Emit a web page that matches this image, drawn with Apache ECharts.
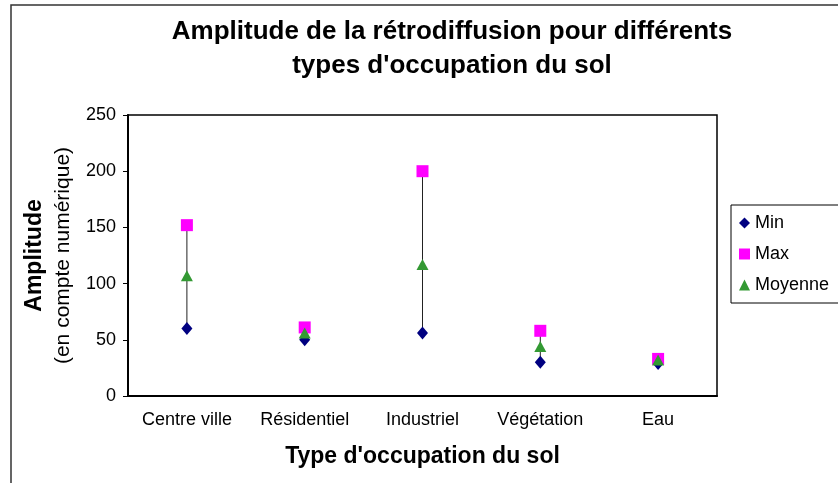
<!DOCTYPE html>
<html>
<head>
<meta charset="utf-8">
<script src="https://cdn.jsdelivr.net/npm/echarts@6/dist/echarts.min.js"></script>
<style>
  html, body { margin: 0; padding: 0; background: #fff; }
  #chart { width: 838px; height: 483px; }
</style>
</head>
<body>
<div id="chart"></div>
<script>
// categories and values
var categories = ['Centre ville', 'Résidentiel', 'Industriel', 'Végétation', 'Eau']
var minValues = [60, 50, 56, 30, 29]
var maxValues = [152, 61, 200, 58, 33]
var meanValues = [107, 56, 117, 44, 32]
var legendNames = ['Min', 'Max', 'Moyenne']

var font = 'Liberation Sans, Arial, sans-serif'

// high-low lines: [index, min, max]
var rangeData = categories.map(function (c, i) {
  return [i, minValues[i], maxValues[i]]
})

var chart = echarts.init(document.getElementById('chart'))

var option = {
  backgroundColor: '#fff',
  animation: false,
  title: {
    text: 'Amplitude de la rétrodiffusion pour différents\ntypes d\'occupation du sol',
    left: 452,
    top: 15,
    padding: 0,
    textAlign: 'center',
    textStyle: {
      fontFamily: font,
      fontSize: 26,
      fontWeight: 'bold',
      color: '#000',
      lineHeight: 34
    }
  },
  legend: {
    data: legendNames,
    orient: 'vertical',
    left: 731,
    top: 205,
    padding: [8, 24, 8, 8],
    itemWidth: 11,
    itemHeight: 11,
    itemGap: 11,
    borderColor: '#000',
    borderWidth: 1,
    textStyle: {
      fontFamily: font,
      fontSize: 18,
      color: '#000',
      lineHeight: 20
    }
  },
  graphic: [
    {
      // outer chart frame, runs past the picture edges
      type: 'rect',
      shape: { x: 11, y: 5, width: 900, height: 600 },
      style: { fill: 'none', stroke: '#333', lineWidth: 1.5 },
      silent: true
    }
  ],
  grid: {
    left: 128,
    top: 115,
    right: 121,
    bottom: 87,
    show: true,
    borderColor: '#000',
    borderWidth: 1.5
  },
  xAxis: {
    type: 'category',
    data: categories,
    boundaryGap: true,
    name: 'Type d\'occupation du sol',
    nameLocation: 'middle',
    nameGap: 49,
    nameTextStyle: {
      fontFamily: font,
      fontSize: 23,
      fontWeight: 'bold',
      color: '#000'
    },
    axisLine: { lineStyle: { color: '#000', width: 2 } },
    axisTick: { length: 6, lineStyle: { color: '#000' } },
    axisLabel: {
      fontFamily: font,
      fontSize: 18,
      color: '#000',
      margin: 15
    },
    splitLine: { show: false }
  },
  yAxis: {
    type: 'value',
    min: 0,
    max: 250,
    interval: 50,
    name: '{a|Amplitude}\n{b|(en compte numérique)}',
    nameLocation: 'middle',
    nameRotate: 90,
    nameGap: 51,
    nameTextStyle: {
      rich: {
        a: { fontFamily: font, fontSize: 23, fontWeight: 'bold', color: '#000', lineHeight: 28 },
        b: { fontFamily: font, fontSize: 21, color: '#000', lineHeight: 28 }
      }
    },
    axisLine: { show: true, lineStyle: { color: '#000', width: 2 } },
    axisTick: { show: true, length: 5, lineStyle: { color: '#000' } },
    axisLabel: {
      fontFamily: font,
      fontSize: 18,
      color: '#000',
      margin: 12
    },
    splitLine: { show: false }
  },
  series: [
    {
      name: 'range',
      type: 'custom',
      data: rangeData,
      encode: { x: 0, y: [1, 2] },
      z: 1,
      renderItem: function (params, api) {
        var p1 = api.coord([api.value(0), api.value(1)])
        var p2 = api.coord([api.value(0), api.value(2)])
        return {
          type: 'line',
          shape: { x1: p1[0], y1: p1[1], x2: p2[0], y2: p2[1] },
          style: { stroke: '#222', lineWidth: 1 }
        }
      }
    },
    {
      name: 'Min',
      type: 'scatter',
      data: minValues,
      symbol: 'diamond',
      symbolSize: [11, 13],
      itemStyle: { color: '#000080', opacity: 1 },
      z: 2
    },
    {
      name: 'Max',
      type: 'scatter',
      data: maxValues,
      symbol: 'rect',
      symbolSize: 12,
      itemStyle: { color: '#FF00FF', opacity: 1 },
      z: 3
    },
    {
      name: 'Moyenne',
      type: 'scatter',
      data: meanValues,
      symbol: 'triangle',
      symbolSize: [12, 11],
      itemStyle: { color: '#339933', opacity: 1 },
      z: 4
    }
  ]
}

chart.setOption(option)

window.addEventListener('resize', function () {
  chart.resize()
})
</script>
</body>
</html>
